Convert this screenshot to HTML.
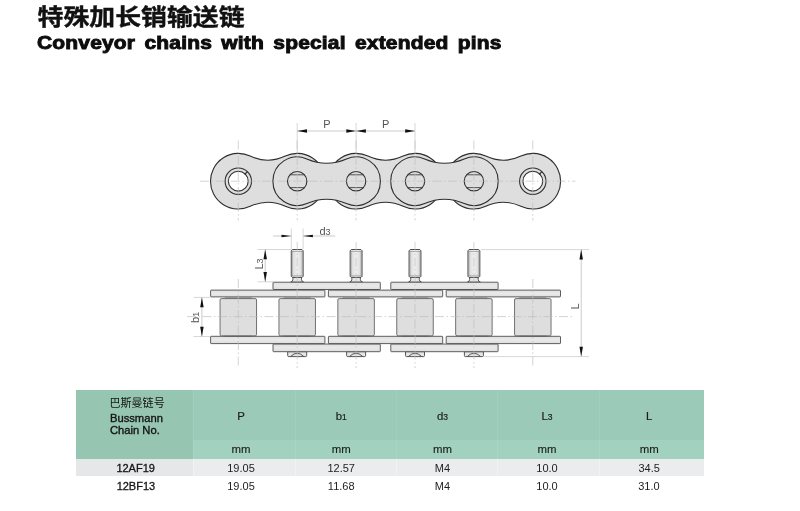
<!DOCTYPE html>
<html lang="zh">
<head>
<meta charset="utf-8">
<title>Conveyor chains with special extended pins</title>
<style>
html,body{margin:0;padding:0;background:#fff;}
body{width:800px;height:511px;position:relative;overflow:hidden;font-family:"Liberation Sans",sans-serif;color:#222;}
#page{position:absolute;left:0;top:0;width:800px;height:511px;will-change:transform;}
#art{position:absolute;left:0;top:0;width:800px;height:511px;}
#art text{font-family:"Liberation Sans",sans-serif;}
h1{position:absolute;left:37.3px;top:33.2px;margin:0;font-size:17.8px;line-height:20px;font-weight:bold;color:#0d0d0d;white-space:nowrap;transform-origin:0 50%;transform:scaleX(1.18);letter-spacing:0.15px;word-spacing:2.8px;-webkit-text-stroke:0.9px #0d0d0d;}
table{position:absolute;left:76px;top:389.5px;width:628px;border-collapse:collapse;border-spacing:0;table-layout:fixed;font-size:11px;color:#1e1e1e;}
td,th{padding:0;text-align:center;font-weight:normal;vertical-align:middle;box-sizing:border-box;}
tr.h th{background:#9bcab8;height:50.5px;font-size:11.4px;border-left:1px solid #a1cfbd;padding-top:1.5px;-webkit-text-stroke:0.2px #1e1e1e;}
tr.h th.name{background:#96c5b1;text-align:left;vertical-align:top;padding:22.6px 0 0 34px;line-height:12px;font-size:11.2px;border-left:0;color:#141414;-webkit-text-stroke:0.35px #141414;}
tr.mm th{background:#a2d2bf;height:18.5px;font-size:11.4px;border-left:1px solid #a8d6c4;padding-bottom:1.5px;-webkit-text-stroke:0.15px #1e1e1e;}
tr.r1 td{background:#ebecee;height:17.5px;border-left:1px solid #f1f2f3;padding-top:1px;}
tr.r1 td.n{background:#e6e7e9;border-left:0;}
tr.r2 td{height:18px;padding-top:1px;}
td.n{color:#141414;-webkit-text-stroke:0.3px #141414;padding-left:2px;}
.c2{padding-right:7.2px;} .c3{padding-right:9.4px;} .c4{padding-right:9.3px;} .c5{padding-right:3.3px;} .c6{padding-right:5.6px;}
sub{font-size:8.5px;vertical-align:baseline;}
</style>
</head>
<body>
<div id="page">
<h1>Conveyor chains with special extended pins</h1>
<table>
<colgroup><col style="width:117.8px"><col style="width:101.6px"><col style="width:101px"><col style="width:101.5px"><col style="width:101.5px"><col style="width:104.6px"></colgroup>
<tr class="h"><th class="name" rowspan="2">Bussmann<br>Chain No.</th><th class="c2">P</th><th class="c3">b<sub>1</sub></th><th class="c4">d<sub>3</sub></th><th class="c5">L<sub>3</sub></th><th class="c6">L</th></tr>
<tr class="mm"><th class="c2">mm</th><th class="c3">mm</th><th class="c4">mm</th><th class="c5">mm</th><th class="c6">mm</th></tr>
<tr class="r1"><td class="n">12AF19</td><td class="c2">19.05</td><td class="c3">12.57</td><td class="c4">M4</td><td class="c5">10.0</td><td class="c6">34.5</td></tr>
<tr class="r2"><td class="n">12BF13</td><td class="c2">19.05</td><td class="c3">11.68</td><td class="c4">M4</td><td class="c5">10.0</td><td class="c6">31.0</td></tr>
</table>
<svg id="art" viewBox="0 0 800 511" width="800" height="511">
<defs>
<linearGradient id="pg" x1="0" x2="1" y1="0" y2="0"><stop offset="0" stop-color="#d6d6d6"/><stop offset="0.5" stop-color="#efefef"/><stop offset="1" stop-color="#d6d6d6"/></linearGradient>
<linearGradient id="plg" x1="0" x2="0" y1="0" y2="1"><stop offset="0" stop-color="#dfdfdf"/><stop offset="0.5" stop-color="#e9e9e9"/><stop offset="1" stop-color="#dedede"/></linearGradient>
</defs>
<text transform="translate(37.6 25.2) scale(1.145 1)" x="0" y="0" font-size="22.6" font-weight="bold" fill="#111" stroke="#111" stroke-width="0.4" style="font-family:'Liberation Sans','Noto Sans CJK SC',sans-serif;">特殊加长销输送链</text>
<text transform="translate(109.4 406.9) scale(0.98 1)" x="0" y="0" font-size="11.3" fill="#141414" style="font-family:'Liberation Sans','Noto Sans CJK SC',sans-serif;">巴斯曼链号</text>
<g id="topview">
<path d="M250.16 156.06 A41.2 41.2 0 0 0 285.34 156.06 A27.8 27.8 0 1 1 285.34 206.34 A41.2 41.2 0 0 0 250.16 206.34 A27.8 27.8 0 1 1 250.16 156.06 Z" fill="#dedede" stroke="#2e2e2e" stroke-width="1.1"/>
<path d="M367.96 156.06 A41.2 41.2 0 0 0 403.14 156.06 A27.8 27.8 0 1 1 403.14 206.34 A41.2 41.2 0 0 0 367.96 206.34 A27.8 27.8 0 1 1 367.96 156.06 Z" fill="#dedede" stroke="#2e2e2e" stroke-width="1.1"/>
<path d="M485.76 156.06 A41.2 41.2 0 0 0 520.94 156.06 A27.8 27.8 0 1 1 520.94 206.34 A41.2 41.2 0 0 0 485.76 206.34 A27.8 27.8 0 1 1 485.76 156.06 Z" fill="#dedede" stroke="#2e2e2e" stroke-width="1.1"/>
<path d="M306.85 158.9 A49.84 49.84 0 0 0 346.45 158.9 A24.3 24.3 0 1 1 346.45 203.5 A49.84 49.84 0 0 0 306.85 203.5 A24.3 24.3 0 1 1 306.85 158.9 Z" fill="#dedede" stroke="#2e2e2e" stroke-width="1.1"/>
<path d="M424.65 158.9 A49.84 49.84 0 0 0 464.25 158.9 A24.3 24.3 0 1 1 464.25 203.5 A49.84 49.84 0 0 0 424.65 203.5 A24.3 24.3 0 1 1 424.65 158.9 Z" fill="#dedede" stroke="#2e2e2e" stroke-width="1.1"/>
<circle cx="238.3" cy="181.2" r="13.2" fill="#dedede" stroke="#2e2e2e" stroke-width="1.1"/>
<circle cx="238.3" cy="181.2" r="9.9" fill="#fff" stroke="#2e2e2e" stroke-width="1.1"/>
<line x1="244.6" y1="174.5" x2="247.4" y2="171.6" stroke="#2e2e2e" stroke-width="1.1"/>
<circle cx="532.8" cy="181.2" r="13.2" fill="#dedede" stroke="#2e2e2e" stroke-width="1.1"/>
<circle cx="532.8" cy="181.2" r="9.9" fill="#fff" stroke="#2e2e2e" stroke-width="1.1"/>
<line x1="539.1" y1="174.5" x2="541.9" y2="171.6" stroke="#2e2e2e" stroke-width="1.1"/>
<circle cx="297.2" cy="181.2" r="9.7" fill="#dedede" stroke="#2e2e2e" stroke-width="1.1"/>
<line x1="289.91" y1="174.8" x2="304.49" y2="174.8" stroke="#2e2e2e" stroke-width="0.8"/>
<line x1="289.91" y1="187.6" x2="304.49" y2="187.6" stroke="#2e2e2e" stroke-width="0.8"/>
<circle cx="356.1" cy="181.2" r="9.7" fill="#dedede" stroke="#2e2e2e" stroke-width="1.1"/>
<line x1="348.81" y1="174.8" x2="363.39" y2="174.8" stroke="#2e2e2e" stroke-width="0.8"/>
<line x1="348.81" y1="187.6" x2="363.39" y2="187.6" stroke="#2e2e2e" stroke-width="0.8"/>
<circle cx="415" cy="181.2" r="9.7" fill="#dedede" stroke="#2e2e2e" stroke-width="1.1"/>
<line x1="407.71" y1="174.8" x2="422.29" y2="174.8" stroke="#2e2e2e" stroke-width="0.8"/>
<line x1="407.71" y1="187.6" x2="422.29" y2="187.6" stroke="#2e2e2e" stroke-width="0.8"/>
<circle cx="473.9" cy="181.2" r="9.7" fill="#dedede" stroke="#2e2e2e" stroke-width="1.1"/>
<line x1="466.61" y1="174.8" x2="481.19" y2="174.8" stroke="#2e2e2e" stroke-width="0.8"/>
<line x1="466.61" y1="187.6" x2="481.19" y2="187.6" stroke="#2e2e2e" stroke-width="0.8"/>
</g>
<g id="centerlines-top">
<line x1="200" y1="181.2" x2="575.5" y2="181.2" stroke="#bcbcbc" stroke-width="0.65" stroke-dasharray="9 2.5 1.5 2.5"/>
<line x1="238.3" y1="140.5" x2="238.3" y2="220.5" stroke="#bcbcbc" stroke-width="0.65" stroke-dasharray="9 2.5 1.5 2.5"/>
<line x1="297.2" y1="140.5" x2="297.2" y2="220.5" stroke="#bcbcbc" stroke-width="0.65" stroke-dasharray="9 2.5 1.5 2.5"/>
<line x1="356.1" y1="140.5" x2="356.1" y2="220.5" stroke="#bcbcbc" stroke-width="0.65" stroke-dasharray="9 2.5 1.5 2.5"/>
<line x1="415" y1="140.5" x2="415" y2="220.5" stroke="#bcbcbc" stroke-width="0.65" stroke-dasharray="9 2.5 1.5 2.5"/>
<line x1="473.9" y1="140.5" x2="473.9" y2="220.5" stroke="#bcbcbc" stroke-width="0.65" stroke-dasharray="9 2.5 1.5 2.5"/>
<line x1="532.8" y1="140.5" x2="532.8" y2="220.5" stroke="#bcbcbc" stroke-width="0.65" stroke-dasharray="9 2.5 1.5 2.5"/>
</g>
<g id="dimP">
<line x1="297.2" y1="123" x2="297.2" y2="153.5" stroke="#c6c6c6" stroke-width="0.7"/>
<line x1="356.1" y1="123" x2="356.1" y2="153.5" stroke="#c6c6c6" stroke-width="0.7"/>
<line x1="415" y1="123" x2="415" y2="153.5" stroke="#c6c6c6" stroke-width="0.7"/>
<line x1="297.2" y1="131" x2="415" y2="131" stroke="#b4b4b4" stroke-width="0.7"/>
<path d="M297.2 131 L307 129.25 L307 132.75 Z" fill="#111"/>
<path d="M356.1 131 L346.3 132.75 L346.3 129.25 Z" fill="#111"/>
<path d="M356.1 131 L365.9 129.25 L365.9 132.75 Z" fill="#111"/>
<path d="M415 131 L405.2 132.75 L405.2 129.25 Z" fill="#111"/>
</g>
<g id="sideview">
<path d="M292.9 277 V279.6 Q292.8 281.6 290.6 282.2 H303.8 Q301.6 281.6 301.5 279.6 V277 Z" fill="#e6e6e6" stroke="#454545" stroke-width="0.9"/>
<path d="M291.25 276.3 V250.8 L292.4 249.5 H302 L303.15 250.8 V276.3 L302.1 277.4 H292.3 Z" fill="url(#pg)" stroke="#454545" stroke-width="0.95" stroke-linejoin="round"/>
<line x1="292.3" y1="251.6" x2="292.3" y2="275.8" stroke="#8a8a8a" stroke-width="0.5"/>
<line x1="302.1" y1="251.6" x2="302.1" y2="275.8" stroke="#8a8a8a" stroke-width="0.5"/>
<line x1="291.6" y1="251.5" x2="302.8" y2="251.5" stroke="#777" stroke-width="0.5"/>
<line x1="291.6" y1="275.8" x2="302.8" y2="275.8" stroke="#777" stroke-width="0.5"/>
<path d="M287.7 351.7 V355.6 Q287.7 356.6 288.7 356.6 H305.7 Q306.7 356.6 306.7 355.6 V351.7 Z" fill="#e6e6e6" stroke="#454545" stroke-width="0.9"/>
<path d="M290.8 356.3 Q297.2 350.2 303.6 356.3" fill="none" stroke="#454545" stroke-width="0.9"/>
<path d="M351.8 277 V279.6 Q351.7 281.6 349.5 282.2 H362.7 Q360.5 281.6 360.4 279.6 V277 Z" fill="#e6e6e6" stroke="#454545" stroke-width="0.9"/>
<path d="M350.15 276.3 V250.8 L351.3 249.5 H360.9 L362.05 250.8 V276.3 L361 277.4 H351.2 Z" fill="url(#pg)" stroke="#454545" stroke-width="0.95" stroke-linejoin="round"/>
<line x1="351.2" y1="251.6" x2="351.2" y2="275.8" stroke="#8a8a8a" stroke-width="0.5"/>
<line x1="361" y1="251.6" x2="361" y2="275.8" stroke="#8a8a8a" stroke-width="0.5"/>
<line x1="350.5" y1="251.5" x2="361.7" y2="251.5" stroke="#777" stroke-width="0.5"/>
<line x1="350.5" y1="275.8" x2="361.7" y2="275.8" stroke="#777" stroke-width="0.5"/>
<path d="M346.6 351.7 V355.6 Q346.6 356.6 347.6 356.6 H364.6 Q365.6 356.6 365.6 355.6 V351.7 Z" fill="#e6e6e6" stroke="#454545" stroke-width="0.9"/>
<path d="M349.7 356.3 Q356.1 350.2 362.5 356.3" fill="none" stroke="#454545" stroke-width="0.9"/>
<path d="M410.7 277 V279.6 Q410.6 281.6 408.4 282.2 H421.6 Q419.4 281.6 419.3 279.6 V277 Z" fill="#e6e6e6" stroke="#454545" stroke-width="0.9"/>
<path d="M409.05 276.3 V250.8 L410.2 249.5 H419.8 L420.95 250.8 V276.3 L419.9 277.4 H410.1 Z" fill="url(#pg)" stroke="#454545" stroke-width="0.95" stroke-linejoin="round"/>
<line x1="410.1" y1="251.6" x2="410.1" y2="275.8" stroke="#8a8a8a" stroke-width="0.5"/>
<line x1="419.9" y1="251.6" x2="419.9" y2="275.8" stroke="#8a8a8a" stroke-width="0.5"/>
<line x1="409.4" y1="251.5" x2="420.6" y2="251.5" stroke="#777" stroke-width="0.5"/>
<line x1="409.4" y1="275.8" x2="420.6" y2="275.8" stroke="#777" stroke-width="0.5"/>
<path d="M405.5 351.7 V355.6 Q405.5 356.6 406.5 356.6 H423.5 Q424.5 356.6 424.5 355.6 V351.7 Z" fill="#e6e6e6" stroke="#454545" stroke-width="0.9"/>
<path d="M408.6 356.3 Q415 350.2 421.4 356.3" fill="none" stroke="#454545" stroke-width="0.9"/>
<path d="M469.6 277 V279.6 Q469.5 281.6 467.3 282.2 H480.5 Q478.3 281.6 478.2 279.6 V277 Z" fill="#e6e6e6" stroke="#454545" stroke-width="0.9"/>
<path d="M467.95 276.3 V250.8 L469.1 249.5 H478.7 L479.85 250.8 V276.3 L478.8 277.4 H469 Z" fill="url(#pg)" stroke="#454545" stroke-width="0.95" stroke-linejoin="round"/>
<line x1="469" y1="251.6" x2="469" y2="275.8" stroke="#8a8a8a" stroke-width="0.5"/>
<line x1="478.8" y1="251.6" x2="478.8" y2="275.8" stroke="#8a8a8a" stroke-width="0.5"/>
<line x1="468.3" y1="251.5" x2="479.5" y2="251.5" stroke="#777" stroke-width="0.5"/>
<line x1="468.3" y1="275.8" x2="479.5" y2="275.8" stroke="#777" stroke-width="0.5"/>
<path d="M464.4 351.7 V355.6 Q464.4 356.6 465.4 356.6 H482.4 Q483.4 356.6 483.4 355.6 V351.7 Z" fill="#e6e6e6" stroke="#454545" stroke-width="0.9"/>
<path d="M467.5 356.3 Q473.9 350.2 480.3 356.3" fill="none" stroke="#454545" stroke-width="0.9"/>
<rect x="273" y="282.2" width="107.3" height="7.3" fill="url(#plg)" stroke="#454545" stroke-width="0.85" rx="0.6"/>
<rect x="273" y="344" width="107.3" height="7.7" fill="url(#plg)" stroke="#454545" stroke-width="0.85" rx="0.6"/>
<rect x="390.8" y="282.2" width="107.3" height="7.3" fill="url(#plg)" stroke="#454545" stroke-width="0.85" rx="0.6"/>
<rect x="390.8" y="344" width="107.3" height="7.7" fill="url(#plg)" stroke="#454545" stroke-width="0.85" rx="0.6"/>
<rect x="210.6" y="290.1" width="114.3" height="6.8" fill="url(#plg)" stroke="#454545" stroke-width="0.85" rx="0.6"/>
<rect x="210.6" y="336.3" width="114.3" height="7.3" fill="url(#plg)" stroke="#454545" stroke-width="0.85" rx="0.6"/>
<rect x="328.4" y="290.1" width="114.3" height="6.8" fill="url(#plg)" stroke="#454545" stroke-width="0.85" rx="0.6"/>
<rect x="328.4" y="336.3" width="114.3" height="7.3" fill="url(#plg)" stroke="#454545" stroke-width="0.85" rx="0.6"/>
<rect x="446.2" y="290.1" width="114.3" height="6.8" fill="url(#plg)" stroke="#454545" stroke-width="0.85" rx="0.6"/>
<rect x="446.2" y="336.3" width="114.3" height="7.3" fill="url(#plg)" stroke="#454545" stroke-width="0.85" rx="0.6"/>
<line x1="224.8" y1="298" x2="251.8" y2="298" stroke="#454545" stroke-width="0.7"/>
<line x1="224.8" y1="335.9" x2="251.8" y2="335.9" stroke="#454545" stroke-width="0.7"/>
<rect x="220.05" y="298.6" width="36.5" height="37.2" fill="#dedede" stroke="#505050" stroke-width="0.8" rx="1.4"/>
<line x1="283.7" y1="298" x2="310.7" y2="298" stroke="#454545" stroke-width="0.7"/>
<line x1="283.7" y1="335.9" x2="310.7" y2="335.9" stroke="#454545" stroke-width="0.7"/>
<rect x="278.95" y="298.6" width="36.5" height="37.2" fill="#dedede" stroke="#505050" stroke-width="0.8" rx="1.4"/>
<line x1="342.6" y1="298" x2="369.6" y2="298" stroke="#454545" stroke-width="0.7"/>
<line x1="342.6" y1="335.9" x2="369.6" y2="335.9" stroke="#454545" stroke-width="0.7"/>
<rect x="337.85" y="298.6" width="36.5" height="37.2" fill="#dedede" stroke="#505050" stroke-width="0.8" rx="1.4"/>
<line x1="401.5" y1="298" x2="428.5" y2="298" stroke="#454545" stroke-width="0.7"/>
<line x1="401.5" y1="335.9" x2="428.5" y2="335.9" stroke="#454545" stroke-width="0.7"/>
<rect x="396.75" y="298.6" width="36.5" height="37.2" fill="#dedede" stroke="#505050" stroke-width="0.8" rx="1.4"/>
<line x1="460.4" y1="298" x2="487.4" y2="298" stroke="#454545" stroke-width="0.7"/>
<line x1="460.4" y1="335.9" x2="487.4" y2="335.9" stroke="#454545" stroke-width="0.7"/>
<rect x="455.65" y="298.6" width="36.5" height="37.2" fill="#dedede" stroke="#505050" stroke-width="0.8" rx="1.4"/>
<line x1="519.3" y1="298" x2="546.3" y2="298" stroke="#454545" stroke-width="0.7"/>
<line x1="519.3" y1="335.9" x2="546.3" y2="335.9" stroke="#454545" stroke-width="0.7"/>
<rect x="514.55" y="298.6" width="36.5" height="37.2" fill="#dedede" stroke="#505050" stroke-width="0.8" rx="1.4"/>
</g>
<g id="centerlines-side">
<line x1="187" y1="316.6" x2="572" y2="316.6" stroke="#bcbcbc" stroke-width="0.65" stroke-dasharray="9 2.5 1.5 2.5"/>
<line x1="238.3" y1="279" x2="238.3" y2="368" stroke="#bcbcbc" stroke-width="0.65" stroke-dasharray="9 2.5 1.5 2.5"/>
<line x1="532.8" y1="279" x2="532.8" y2="368" stroke="#bcbcbc" stroke-width="0.65" stroke-dasharray="9 2.5 1.5 2.5"/>
<line x1="297.2" y1="242" x2="297.2" y2="368" stroke="#bcbcbc" stroke-width="0.65" stroke-dasharray="9 2.5 1.5 2.5"/>
<line x1="356.1" y1="242" x2="356.1" y2="368" stroke="#bcbcbc" stroke-width="0.65" stroke-dasharray="9 2.5 1.5 2.5"/>
<line x1="415" y1="242" x2="415" y2="368" stroke="#bcbcbc" stroke-width="0.65" stroke-dasharray="9 2.5 1.5 2.5"/>
<line x1="473.9" y1="242" x2="473.9" y2="368" stroke="#bcbcbc" stroke-width="0.65" stroke-dasharray="9 2.5 1.5 2.5"/>
</g>
<g id="dims-side">
<line x1="291.3" y1="228.5" x2="291.3" y2="249" stroke="#c6c6c6" stroke-width="0.7"/>
<line x1="303.1" y1="228.5" x2="303.1" y2="249" stroke="#c6c6c6" stroke-width="0.7"/>
<line x1="273.2" y1="236" x2="291.3" y2="236" stroke="#b4b4b4" stroke-width="0.7"/>
<line x1="303.1" y1="236" x2="335.2" y2="236" stroke="#b4b4b4" stroke-width="0.7"/>
<path d="M291.3 236 L281.5 237.35 L281.5 234.65 Z" fill="#111"/>
<path d="M303.1 236 L312.9 234.65 L312.9 237.35 Z" fill="#111"/>
<line x1="257.5" y1="249.5" x2="291.2" y2="249.5" stroke="#c6c6c6" stroke-width="0.7"/>
<line x1="257.5" y1="281.8" x2="273" y2="281.8" stroke="#c6c6c6" stroke-width="0.7"/>
<line x1="265.2" y1="249.5" x2="265.2" y2="281.8" stroke="#b4b4b4" stroke-width="0.7"/>
<path d="M265.2 249.5 L266.95 259.3 L263.45 259.3 Z" fill="#111"/>
<path d="M265.2 281.8 L263.45 272 L266.95 272 Z" fill="#111"/>
<line x1="193.5" y1="297.4" x2="210" y2="297.4" stroke="#c6c6c6" stroke-width="0.7"/>
<line x1="193.5" y1="336.5" x2="210" y2="336.5" stroke="#c6c6c6" stroke-width="0.7"/>
<line x1="201.9" y1="297.4" x2="201.9" y2="336.5" stroke="#b4b4b4" stroke-width="0.7"/>
<path d="M201.9 297.4 L203.65 307.2 L200.15 307.2 Z" fill="#111"/>
<path d="M201.9 336.5 L200.15 326.7 L203.65 326.7 Z" fill="#111"/>
<line x1="480.9" y1="249.6" x2="589" y2="249.6" stroke="#c6c6c6" stroke-width="0.7"/>
<line x1="483.9" y1="356.6" x2="589" y2="356.6" stroke="#c6c6c6" stroke-width="0.7"/>
<line x1="581.2" y1="249.6" x2="581.2" y2="356.6" stroke="#b4b4b4" stroke-width="0.7"/>
<path d="M581.2 249.6 L582.95 259.4 L579.45 259.4 Z" fill="#111"/>
<path d="M581.2 356.6 L579.45 346.8 L582.95 346.8 Z" fill="#111"/>
</g>
<text x="326.8" y="127.6" font-size="11" text-anchor="middle" fill="#545454" font-weight="normal">P</text>
<text x="385.6" y="127.6" font-size="11" text-anchor="middle" fill="#545454" font-weight="normal">P</text>
<text x="325" y="235" font-size="11" text-anchor="middle" fill="#545454" font-weight="normal">d<tspan font-size="9">3</tspan></text>
<text x="263" y="264" font-size="11" text-anchor="middle" fill="#545454" font-weight="normal" transform="rotate(-90 263 264)">L<tspan font-size="9">3</tspan></text>
<text x="199" y="317.3" font-size="11" text-anchor="middle" fill="#545454" font-weight="normal" transform="rotate(-90 199 317.3)">b<tspan font-size="9">1</tspan></text>
<text x="579" y="306.5" font-size="11" text-anchor="middle" fill="#545454" font-weight="normal" transform="rotate(-90 579 306.5)">L</text>
</svg>
</div>
</body>
</html>
